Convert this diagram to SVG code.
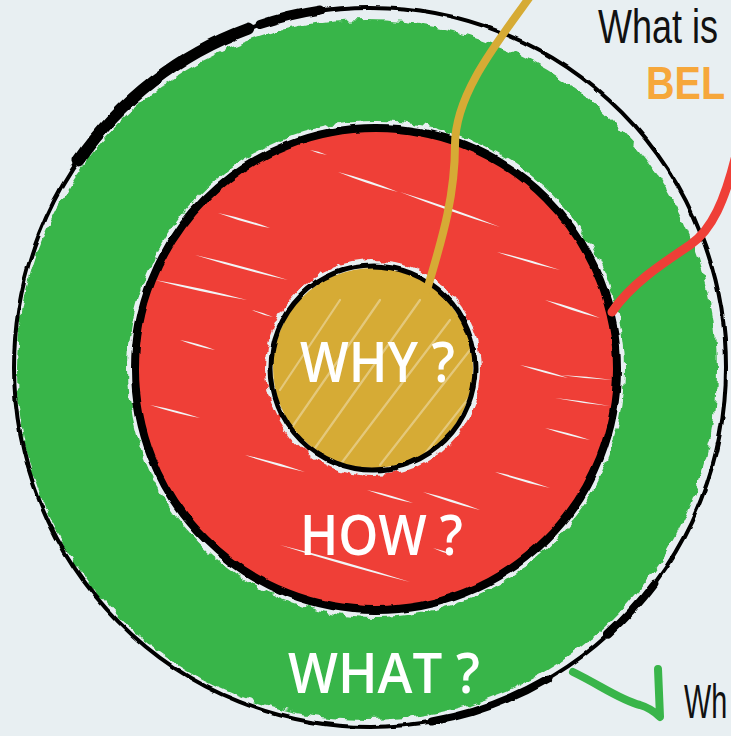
<svg xmlns="http://www.w3.org/2000/svg" width="731" height="736" viewBox="0 0 731 736">
<defs>
<style>
.lbl{font-family:"Open Sans","DejaVu Sans",sans-serif;font-weight:600;fill:#ffffff;font-size:56px}
.hand{font-family:"Liberation Sans","DejaVu Sans",sans-serif;fill:#111111;font-size:48px}
.streak{fill:#f2f5f6;stroke:none}
.ystreak{stroke:#ffffff;stroke-opacity:0.35;stroke-width:2.2;stroke-linecap:round;fill:none}
.ink{fill:none;stroke:#000000;stroke-linecap:round}
.bg{fill:#e8eff2}
</style>
<filter id="rough" x="-5%" y="-5%" width="110%" height="110%">
<feTurbulence type="fractalNoise" baseFrequency="0.09" numOctaves="2" seed="4"/>
<feDisplacementMap in="SourceGraphic" scale="9" xChannelSelector="R" yChannelSelector="G"/>
</filter>
<filter id="rough2" x="-5%" y="-5%" width="110%" height="110%">
<feTurbulence type="fractalNoise" baseFrequency="0.05" numOctaves="2" seed="9"/>
<feDisplacementMap in="SourceGraphic" scale="4" xChannelSelector="R" yChannelSelector="G"/>
</filter>
<clipPath id="yclip"><circle cx="373" cy="368" r="100"/></clipPath>
</defs>
<rect class="bg" x="0" y="0" width="731" height="736"/>

<g id="what-ring">
<circle cx="367" cy="370" r="350" fill="#39b54a" filter="url(#rough)"/>
<g filter="url(#rough2)">
<ellipse class="ink" cx="370" cy="367" rx="356" ry="360" stroke-width="4"/>
<path class="ink" stroke-width="12" d="M78.4,160.4 A356,360 0 0 1 248.2,28.6"/>
<path class="ink" stroke-width="9" d="M260,24.6 A356,360 0 0 1 320,10"/>
<path class="ink" stroke-width="8" d="M548,678.8 A356,360 0 0 1 431.8,721.5"/>
<path class="ink" stroke-width="8" d="M654.3,583.7 A356,360 0 0 1 608.2,634.5"/>
</g>
<text class="lbl" x="288" y="693" textLength="192" lengthAdjust="spacingAndGlyphs">WHAT ?</text>
</g>

<g id="how-ring">
<circle class="bg" cx="376" cy="369" r="248" filter="url(#rough)"/>
<circle cx="376" cy="369" r="240" fill="#ef3f37"/>
<g class="streak">
<path d="M218,213 Q244,218 270,228 Q244,223 218,213 Z"/>
<path d="M195,255 Q241.5,265 288,280 Q241.5,270 195,255 Z"/>
<path d="M155,280 Q201,287.5 247,300 Q201,292.5 155,280 Z"/>
<path d="M252,310 Q262.5,312 273,317 Q262.5,315 252,310 Z"/>
<path d="M400,192 Q450,207 500,227 Q450,212 400,192 Z"/>
<path d="M497,252 Q528.5,258.5 560,270 Q528.5,263.5 497,252 Z"/>
<path d="M310,150 Q318.5,151 327,155 Q318.5,154 310,150 Z"/>
<path d="M338,172 Q368,179.5 398,192 Q368,184.5 338,172 Z"/>
<path d="M367,490 Q390,494.5 413,503 Q390,498.5 367,490 Z"/>
<path d="M423,492 Q451.5,498.5 480,510 Q451.5,503.5 423,492 Z"/>
<path d="M280,545 Q345,561 410,582 Q345,566 280,545 Z"/>
<path d="M433,548 Q443,550 453,555 Q443,553 433,548 Z"/>
<path d="M545,300 Q572.5,306.5 600,318 Q572.5,311.5 545,300 Z"/>
<path d="M520,365 Q544,369.5 568,378 Q544,373.5 520,365 Z"/>
<path d="M560,375 Q586.5,376 613,380 Q586.5,379 560,375 Z"/>
<path d="M555,398 Q582.5,400.5 610,406 Q582.5,403.5 555,398 Z"/>
<path d="M545,428 Q567.5,432 590,440 Q567.5,436 545,428 Z"/>
<path d="M150,405 Q175,409.5 200,418 Q175,413.5 150,405 Z"/>
<path d="M245,455 Q275,461 305,472 Q275,466 245,455 Z"/>
<path d="M495,472 Q522.5,477.5 550,488 Q522.5,482.5 495,472 Z"/>
<path d="M180,340 Q197.5,343 215,350 Q197.5,347 180,340 Z"/>
</g>
<circle class="ink" cx="376" cy="369" r="241" stroke-width="8" filter="url(#rough2)"/>
<text class="lbl" x="300" y="555" textLength="163" lengthAdjust="spacingAndGlyphs">HOW ?</text>
</g>

<g id="why-core">
<circle class="bg" cx="373" cy="368" r="108" filter="url(#rough)"/>
<circle cx="373" cy="368" r="100" fill="#d6ab35"/>
<g class="ystreak" clip-path="url(#yclip)">
<path d="M290,430 L380,300"/>
<path d="M310,455 L420,300"/>
<path d="M340,465 L450,320"/>
<path d="M380,465 L470,350"/>
<path d="M280,390 L340,300"/>
<path d="M420,460 L475,390"/>
</g>
<circle class="ink" cx="373" cy="368" r="102" stroke-width="5" filter="url(#rough2)"/>
<text class="lbl" x="300" y="382" textLength="155" lengthAdjust="spacingAndGlyphs">WHY ?</text>
</g>

<g id="connectors" fill="none" stroke-linecap="round">
<path d="M427,290 C440,245 455,200 455,145 C455,95 495,45 532,-6" stroke="#d6ab35" stroke-width="8"/>
<path d="M612,312 C630,285 660,265 690,245 C712,230 725,200 736,155" stroke="#ef3f37" stroke-width="9"/>
<path d="M573,672 C600,685 620,700 640,705 C650,708 655,712 660,717 L658,669" stroke="#39b54a" stroke-width="8" stroke-linejoin="round"/>
</g>

<g id="callout-why">
<text class="hand" transform="translate(598,43) scale(0.75,1)">What is</text>
<text transform="translate(646,99) scale(0.86,1)" font-family="Liberation Sans, DejaVu Sans, sans-serif" font-weight="bold" font-size="46" fill="#f6a73b">BEL</text>
</g>
<g id="callout-what">
<text class="hand" transform="translate(684,718) scale(0.6,1)">Wh</text>
</g>
</svg>
